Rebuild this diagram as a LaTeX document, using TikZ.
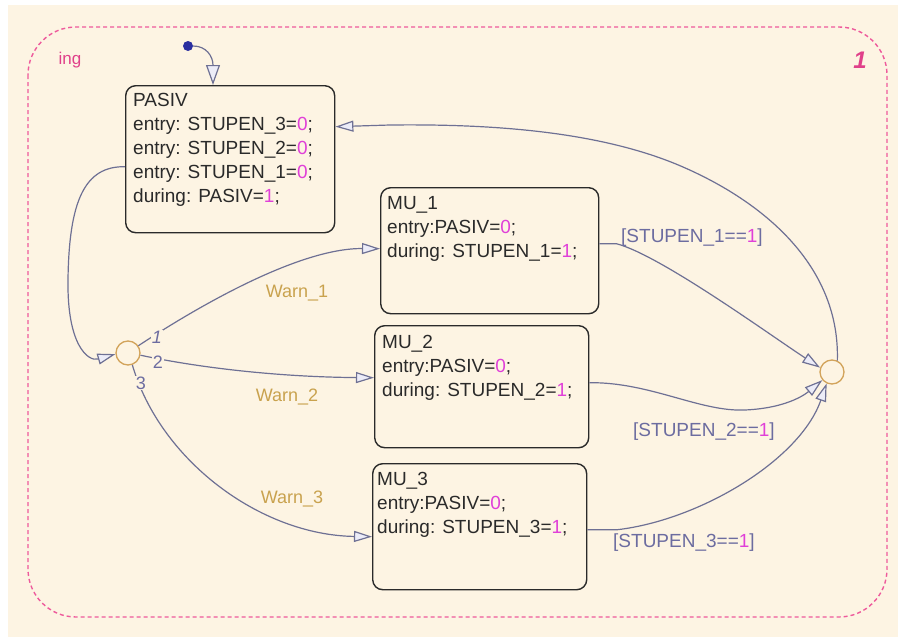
\documentclass[tikz,border=0pt]{standalone}
\usepackage{fontspec}
\setmainfont{Liberation Sans}
\usetikzlibrary{arrows.meta}

\definecolor{paper}{HTML}{FDF4E3}
\definecolor{frame}{HTML}{EE5A9C}
\definecolor{wire}{HTML}{6E7094}
\definecolor{tipfill}{HTML}{ECECF8}
\definecolor{ink}{HTML}{2A2A2A}
\definecolor{num}{HTML}{E040D8}
\definecolor{cond}{HTML}{6C6CA0}
\definecolor{evt}{HTML}{C9A24E}
\definecolor{junc}{HTML}{D2A35A}
\definecolor{dflt}{HTML}{2B2FA0}
\definecolor{chartlbl}{HTML}{E0408A}

\tikzset{
  statebox/.style={draw=ink, line width=1.4pt, rounded corners=10pt,
    inner sep=0pt, anchor=north west},
  body/.style={anchor=north west, align=left, inner sep=0pt,
    font=\fontsize{19}{24}\selectfont, text=ink},
  junction/.style={circle, draw=junc, line width=1.3pt, fill=paper,
    minimum size=24pt, inner sep=0pt},
  trans/.style={draw=wire, line width=1.2pt,
    -{Triangle[length=18pt,width=11pt,fill=tipfill]}},
  guard/.style={font=\fontsize{19}{24}\selectfont, text=cond, inner sep=0pt},
  event/.style={font=\fontsize{18}{22}\selectfont, text=evt, inner sep=0pt},
  order/.style={font=\fontsize{18}{20}\selectfont, text=cond, fill=paper,
    inner sep=1pt},
}

\begin{document}
\begin{tikzpicture}[x=1pt,y=-1pt]
  % canvas
  \useasboundingbox (0,0) rectangle (898,637);
  \fill[white] (0,0) rectangle (898,637);
  \fill[paper] (8,5) rectangle (898,637);

  % chart frame
  \draw[frame, line width=1.4pt, dash pattern=on 4pt off 3pt,
        rounded corners=48pt] (28,27) rectangle (887,617);
  \node[text=chartlbl, font=\fontsize{17}{20}\selectfont, inner sep=0pt]
    (chartname) at (70,60) {ing};
  \node[text=chartlbl, font=\fontsize{24}{26}\selectfont\bfseries\itshape,
    inner sep=0pt] (chartnum) at (860,60) {1};

  % states
  \node[statebox, minimum width=209pt, minimum height=147pt] (pasiv) at (125,85) {};
  \node[statebox, minimum width=218pt, minimum height=126pt] (mu1) at (380,187) {};
  \node[statebox, minimum width=214pt, minimum height=122pt] (mu2) at (374,325) {};
  \node[statebox, minimum width=214pt, minimum height=126pt] (mu3) at (372,463) {};

  \node[body] (pasivtxt) at (133,93.4) {PASIV\\
    entry: STUPEN\_3=\textcolor{num}{0};\\
    entry: STUPEN\_2=\textcolor{num}{0};\\
    entry: STUPEN\_1=\textcolor{num}{0};\\
    during: PASIV=\textcolor{num}{1};};
  \node[body] (mu1txt) at (387,196) {MU\_1\\
    entry:PASIV=\textcolor{num}{0};\\
    during: STUPEN\_1=\textcolor{num}{1};};
  \node[body] (mu2txt) at (382,335) {MU\_2\\
    entry:PASIV=\textcolor{num}{0};\\
    during: STUPEN\_2=\textcolor{num}{1};};
  \node[body] (mu3txt) at (377,472) {MU\_3\\
    entry:PASIV=\textcolor{num}{0};\\
    during: STUPEN\_3=\textcolor{num}{1};};

  % junctions and default transition source
  \node[junction] (j1) at (128,353) {};
  \node[junction] (j2) at (832,372) {};
  \node[circle, fill=dflt, minimum size=10pt, inner sep=0pt] (start) at (188,46) {};

  % default transition
  \draw[trans, -{Triangle[length=20pt,width=14pt,fill=tipfill]}]
    (start.east) .. controls (206,46) and (213,56) .. ([xshift=88pt]pasiv.north west);

  % PASIV -> left junction
  \draw[trans] ([yshift=-7.5pt]pasiv.west) .. controls (85,166) and (69,200) .. (68,280)
    .. controls (67,345) and (88,362) .. (j1.185);

  % left junction -> MU states
  \draw[trans] (j1.35) .. controls (200,305) and (300,248) .. ([yshift=2pt]mu1.west);
  \draw[trans] (j1.-10) .. controls (200,368) and (280,377) .. ([yshift=9pt]mu2.west);
  \draw[trans] (j1.-70) .. controls (160,460) and (260,535) .. ([yshift=-10pt]mu3.west);

  % MU states -> right junction
  \draw[trans] ([yshift=7pt]mu1.east) -- ++(17,0)
    .. controls (660,255) and (770,335) .. (j2.160);
  \draw[trans] ([yshift=4pt]mu2.east) .. controls (650,382) and (700,412) .. (745,410)
    .. controls (790,408) and (808,392) .. (j2.220);
  \draw[trans] ([yshift=-3pt]mu3.east) -- ++(30,0)
    .. controls (700,520) and (800,460) .. (j2.245);

  % right junction -> PASIV
  \draw[trans] (j2.65) .. controls (840,270) and (770,205) .. (683,167)
    .. controls (596,129) and (480,124) .. (390,125) -- ([yshift=32.5pt]pasiv.east);

  % execution order numbers
  \node[order] (o1) at (157,337) {\itshape 1};
  \node[order] (o2) at (158,362) {2};
  \node[order] (o3) at (141,383) {3};

  % transition labels
  \node[event] (w1) at (297,293) {Warn\_1};
  \node[event] (w2) at (287,397) {Warn\_2};
  \node[event] (w3) at (292,499) {Warn\_3};
  \node[guard, anchor=west] (g1) at (621,238) {[STUPEN\_1==\textcolor{num}{1}]};
  \node[guard, anchor=west] (g2) at (633,432) {[STUPEN\_2==\textcolor{num}{1}]};
  \node[guard, anchor=west] (g3) at (613,543) {[STUPEN\_3==\textcolor{num}{1}]};
\end{tikzpicture}
\end{document}
